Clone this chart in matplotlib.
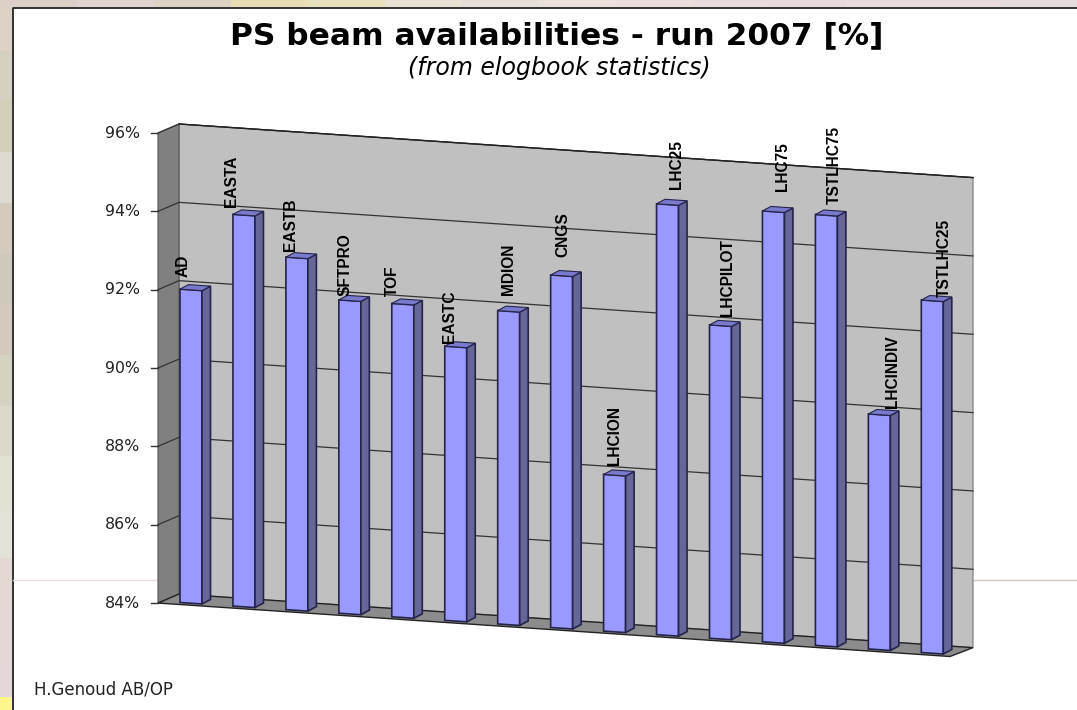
import matplotlib
matplotlib.use('Agg')
import matplotlib.pyplot as plt
from matplotlib.patches import Polygon, Rectangle

# values
beams = ['AD', 'EASTA', 'EASTB', 'SFTPRO', 'TOF', 'EASTC', 'MDION', 'CNGS',
         'LHCION', 'LHC25', 'LHCPILOT', 'LHC75', 'TSTLHC75', 'LHCINDIV', 'TSTLHC25']
avail = [92.0, 94.0, 93.0, 92.0, 92.0, 91.0, 92.0, 93.0,
         88.0, 95.0, 92.0, 95.0, 95.0, 90.0, 93.0]
ticks = [84, 86, 88, 90, 92, 94, 96]

# offsets of the beam names from the bar top-left corner
label_dx = [3, -1, 5, 6, 1, 5, 11, 12, 11, 20, 18, 20, 19, 24, 23]
label_dy = [12, 7, 6, 4, 7, 3, 16, 18, 9, 15, 9, 20, 11, 6, 3]

left_strip = ['#ddd2c6', '#d6d0c0', '#d2ceba', '#dedacf', '#d4cbbf', '#cec8bc', '#d3cabe',
              '#d6d2c2', '#dcd9cb', '#e2e1d4', '#e3e2d6', '#e2d8d4', '#e3d8d6', '#e3d8d8']
top_strip = ['#dccfc8', '#e0d4d0', '#dcd2c4', '#e8dcb4', '#e8dfbc', '#e8e2d4', '#e6dfd8',
             '#ece0dc', '#ebdfdd', '#e8dcdc', '#e6dada', '#e8dcdc', '#e8dcdc', '#e6dcdc']

# projection of the fake 3d box, in pixels
PX_PER_PCT = 39.17
SLOPE = 0.0675
X_FIRST, BAR_STEP = 180, 52.95
BAR_W, BAR_DX, BAR_DY = 22, 8.5, -4.5
Y_BASE = 602.5
WALL_L, WALL_R, WALL_TOP = 179, 973, 124
FRONT_L, FRONT_R, FRONT_TOP = 158, 950, 133


def wall(x, pct):
    return WALL_TOP + SLOPE * (x - WALL_L) + (96 - pct) * PX_PER_PCT


def front(x, pct):
    return FRONT_TOP + SLOPE * (x - FRONT_L) + (96 - pct) * PX_PER_PCT


def bar_y(x, pct):
    return Y_BASE + SLOPE * (x - X_FIRST) - (pct - 84) * PX_PER_PCT


fig = plt.figure(figsize=(10.77, 7.10), dpi=100)
ax = fig.add_axes([0, 0, 1, 1])
ax.set_xlim(0, 1077)
ax.set_ylim(710, 0)
ax.axis('off')

# slide background round the white panel
h = 710 / len(left_strip)
for k, c in enumerate(left_strip):
    ax.add_patch(Rectangle((0, k * h), 12, h + 1, fc=c, ec='none', zorder=0))
w = 1077 / len(top_strip)
for k, c in enumerate(top_strip):
    ax.add_patch(Rectangle((k * w, 0), w + 1, 7, fc=c, ec='none', zorder=0))
ax.add_patch(Rectangle((0, 697), 12, 13, fc='#fbf58c', ec='none', zorder=1))
ax.add_patch(Rectangle((12, 7), 1065, 703, fc='white', ec='none', zorder=1))
ax.plot([12.5, 12.5, 1077], [710, 7.5, 7.5], color='#222222', lw=1.3, zorder=2)
ax.plot([13, 158], [580, 580], color='#e8dcdc', lw=1, zorder=2)
ax.plot([973, 1077], [580, 580], color='#d8c8b8', lw=1, zorder=2)

# walls and floor
ax.add_patch(Polygon([(WALL_L, wall(WALL_L, 96)), (WALL_R, wall(WALL_R, 96)),
                      (WALL_R, wall(WALL_R, 84)), (WALL_L, wall(WALL_L, 84))],
                     fc='#c0c0c0', ec='#777777', lw=0.8, zorder=3))
ax.add_patch(Polygon([(FRONT_L, front(FRONT_L, 96)), (WALL_L, wall(WALL_L, 96)),
                      (WALL_L, wall(WALL_L, 84)), (FRONT_L, front(FRONT_L, 84))],
                     fc='#808080', ec='#555555', lw=0.8, zorder=3))
ax.add_patch(Polygon([(FRONT_L, front(FRONT_L, 84)), (WALL_L, wall(WALL_L, 84)),
                      (WALL_R, wall(WALL_R, 84)), (FRONT_R, front(FRONT_R, 84))],
                     fc='#8c8c8c', ec='#222222', lw=1, zorder=3))

for t in ticks:
    ax.plot([FRONT_L - 7, FRONT_L], [front(FRONT_L, t)] * 2, color='#333333', lw=1, zorder=4)
    ax.text(140, front(FRONT_L, t), '%d%%' % t, ha='right', va='center',
            fontsize=11.3, family='DejaVu Sans', color='#222222', zorder=4)
    if t > 84:
        ax.plot([FRONT_L, WALL_L, WALL_R], [front(FRONT_L, t), wall(WALL_L, t), wall(WALL_R, t)],
                color='#333333', lw=0.9, zorder=4)
ax.plot([WALL_L, WALL_R], [wall(WALL_L, 96), wall(WALL_R, 96)], color='#222222', lw=1, zorder=4)

# bars
for i, (name, v) in enumerate(zip(beams, avail)):
    x0 = X_FIRST + i * BAR_STEP
    x1 = x0 + BAR_W
    y0t, y0b = bar_y(x0, v), bar_y(x0, 84)
    y1t, y1b = bar_y(x1, v), bar_y(x1, 84)
    edge = '#24244a'
    ax.add_patch(Polygon([(x0, y0t), (x1, y1t), (x1, y1b), (x0, y0b)],
                         fc='#9999ff', ec=edge, lw=1.2, zorder=5))
    ax.add_patch(Polygon([(x1, y1t), (x1 + BAR_DX, y1t + BAR_DY),
                          (x1 + BAR_DX, y1b + BAR_DY), (x1, y1b)],
                         fc='#666699', ec=edge, lw=1.2, zorder=5))
    ax.add_patch(Polygon([(x0, y0t), (x0 + BAR_DX, y0t + BAR_DY),
                          (x1 + BAR_DX, y1t + BAR_DY), (x1, y1t)],
                         fc='#7a7acc', ec=edge, lw=0.8, zorder=5))
    ax.text(x0 + label_dx[i], y0t - label_dy[i], name, rotation=90, ha='center', va='bottom',
            fontsize=11.2, fontweight='bold', family='Liberation Sans', color='black', zorder=6)

ax.text(557, 36, 'PS beam availabilities - run 2007 [%]', ha='center', va='center',
        fontsize=22.5, fontweight='bold', family='DejaVu Sans', color='black', zorder=6)
ax.text(559, 68, '(from elogbook statistics)', ha='center', va='center',
        fontsize=17, style='italic', family='DejaVu Sans', color='black', zorder=6)
ax.text(34, 690, 'H.Genoud AB/OP', ha='left', va='center',
        fontsize=12, family='DejaVu Sans', color='#222222', zorder=6)

fig.savefig('out.png', dpi=100)
